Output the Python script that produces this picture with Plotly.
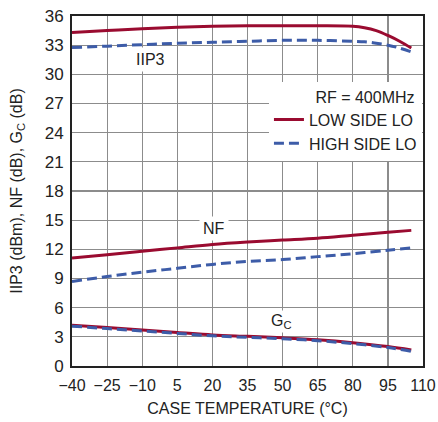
import plotly.graph_objects as go

temp = [-40, -25, -10, 5, 20, 35, 50, 65, 80, 85, 90, 95, 100, 105]
iip3_low = [34.3, 34.5, 34.7, 34.85, 34.95, 35.0, 35.0, 35.0, 34.95, 34.8, 34.5, 34.0, 33.4, 32.7]
iip3_high = [32.75, 32.9, 33.05, 33.2, 33.3, 33.4, 33.5, 33.5, 33.4, 33.35, 33.2, 33.0, 32.7, 32.3]

temp2 = [-40, -25, -10, 5, 20, 35, 50, 65, 80, 95, 105]
nf_low = [11.1, 11.45, 11.8, 12.15, 12.5, 12.75, 12.95, 13.15, 13.45, 13.75, 13.95]
nf_high = [8.7, 9.2, 9.65, 10.05, 10.45, 10.75, 10.95, 11.25, 11.55, 11.9, 12.15]
gc_low = [4.2, 3.95, 3.7, 3.45, 3.2, 3.05, 2.9, 2.7, 2.4, 2.0, 1.65]
gc_high = [4.1, 3.85, 3.6, 3.35, 3.1, 2.95, 2.8, 2.6, 2.3, 1.9, 1.5]

x_ticks = [-40, -25, -10, 5, 20, 35, 50, 65, 80, 95, 110]
x_tick_text = ["\u221240", "\u221225", "\u221210", "5", "20", "35", "50", "65", "80", "95", "110"]
y_ticks = list(range(0, 37, 3))

RED = "#9a0b30"
BLUE = "#3d5ca8"
FONT = "Liberation Sans, Arial, sans-serif"
FS = 16

fig = go.Figure()
line_red = dict(color=RED, width=3)
line_blue = dict(color=BLUE, width=3, dash="10px,5px")

fig.add_trace(go.Scatter(x=temp, y=iip3_low, mode="lines", line=dict(line_red, shape="spline"), name="LOW SIDE LO", showlegend=True))
fig.add_trace(go.Scatter(x=temp, y=iip3_high, mode="lines", line=dict(line_blue, shape="spline"), name="HIGH SIDE LO", showlegend=True))
fig.add_trace(go.Scatter(x=temp2, y=nf_low, mode="lines", line=dict(line_red, shape="spline"), showlegend=False))
fig.add_trace(go.Scatter(x=temp2, y=nf_high, mode="lines", line=dict(line_blue, shape="spline"), showlegend=False))
fig.add_trace(go.Scatter(x=temp2, y=gc_low, mode="lines", line=dict(line_red, shape="spline"), showlegend=False))
fig.add_trace(go.Scatter(x=temp2, y=gc_high, mode="lines", line=dict(line_blue, shape="spline"), showlegend=False))

lab_font = dict(family=FONT, size=FS, color="#222")
fig.add_annotation(x=-6.5, y=31.5, text="IIP3", showarrow=False, font=lab_font, bgcolor="white", borderpad=3)
fig.add_annotation(x=20.5, y=14.1, text="NF", showarrow=False, font=lab_font, bgcolor="white", borderpad=3)
fig.add_annotation(x=49.5, y=4.6, text="G<sub>C</sub>", showarrow=False, font=lab_font, bgcolor="white", borderpad=1)

fig.update_layout(
    width=438, height=422,
    margin=dict(l=72, r=15, t=16, b=56),
    paper_bgcolor="white", plot_bgcolor="white",
    font=dict(family=FONT, size=FS, color="#222"),
    legend=dict(
        x=0.997, y=0.812, xanchor="right", yanchor="top",
        bgcolor="white", borderwidth=0,
        title=dict(text="\u00a0\u00a0\u00a0\u00a0\u00a0\u00a0\u00a0\u00a0\u00a0\u00a0RF = 400MHz", font=dict(family=FONT, size=FS)),
        font=dict(family=FONT, size=FS),
        itemwidth=30, tracegroupgap=0,
    ),
    xaxis=dict(
        range=[-40, 110], tickvals=x_ticks, ticktext=x_tick_text, tickangle=0,
        showgrid=True, gridcolor="#8c8c8c", gridwidth=1.2,
        showline=True, linecolor="#222", linewidth=2, mirror=True,
        ticks="", zeroline=False, automargin=False, ticklabelstandoff=4,
        ticklabeloverflow="allow",
        title=dict(text="CASE TEMPERATURE (°C)", font=dict(family=FONT, size=FS), standoff=10),
    ),
    yaxis=dict(
        range=[0, 36], tickvals=y_ticks, tickfont=dict(size=17),
        showgrid=True, gridcolor="#8c8c8c", gridwidth=1.2,
        showline=True, linecolor="#222", linewidth=2, mirror=True,
        ticks="", zeroline=False, automargin=False, ticklabelstandoff=3,
        ticklabeloverflow="allow",
        title=dict(text="IIP3 (dBm), NF (dB), G<sub>C</sub> (dB)", font=dict(family=FONT, size=FS), standoff=18),
    ),
)

fig.write_html(
    "out.html",
    config={"displayModeBar": False, "staticPlot": True},
    post_script="document.body.style.margin='0';document.body.style.overflow='hidden';",
)
